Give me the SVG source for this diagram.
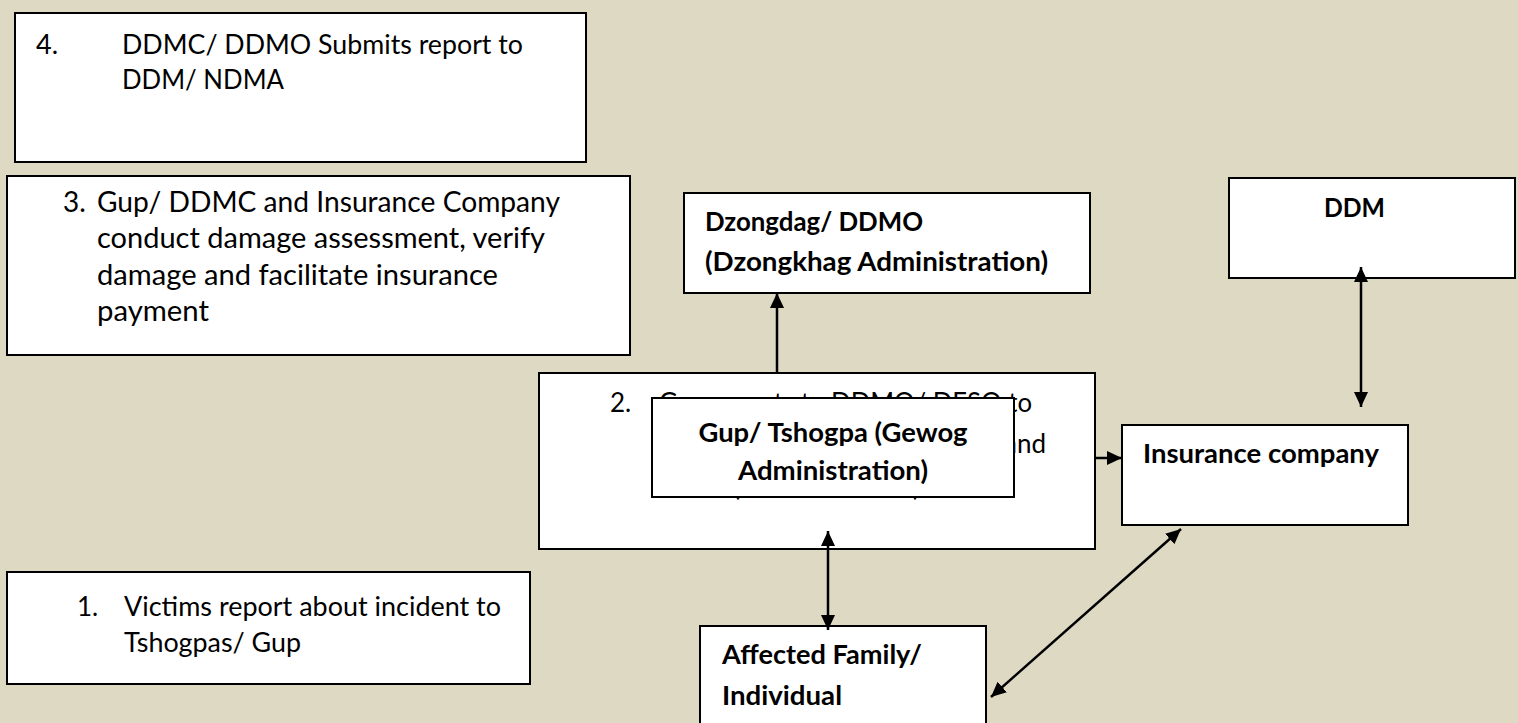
<svg xmlns="http://www.w3.org/2000/svg" width="1518" height="723" viewBox="0 0 1518 723">
<style>
.bx{fill:#fff;stroke:#000;stroke-width:2}
.t{font-family:Lato,"Open Sans","Liberation Sans",sans-serif;font-size:26px;fill:#000}
.t27{font-size:27px}
.t28{font-size:28px}
.b{font-family:Lato,"Open Sans","Liberation Sans",sans-serif;font-size:26px;font-weight:bold;fill:#000}
.ln{stroke:#000;stroke-width:2.5;fill:none}
</style>
<defs>
<marker id="ah" markerUnits="userSpaceOnUse" markerWidth="16" markerHeight="16" viewBox="0 0 16 16" refX="15" refY="8" orient="auto-start-reverse">
<path d="M0,1 L15,8 L0,15 z" fill="#000"/>
</marker>
</defs>
<rect x="0" y="0" width="1518" height="723" fill="#DDD9C3"/>

<g id="step4">
<rect class="bx" x="15" y="13" width="571" height="149"/>
<text class="t t27" x="36" y="54">4.</text>
<text class="t t27" x="122" y="54" textLength="401" lengthAdjust="spacingAndGlyphs">DDMC/ DDMO Submits report to</text>
<text class="t t27" x="122" y="89" textLength="162" lengthAdjust="spacingAndGlyphs">DDM/ NDMA</text>
</g>

<g id="step3">
<rect class="bx" x="7" y="176" width="623" height="179"/>
<text class="t t28" x="63" y="212">3.</text>
<text class="t t28" x="97" y="212" textLength="463" lengthAdjust="spacingAndGlyphs">Gup/ DDMC and Insurance Company</text>
<text class="t t28" x="97" y="248" textLength="448" lengthAdjust="spacingAndGlyphs">conduct damage assessment, verify</text>
<text class="t t28" x="97" y="285" textLength="401" lengthAdjust="spacingAndGlyphs">damage and facilitate insurance</text>
<text class="t t28" x="97" y="321" textLength="112" lengthAdjust="spacingAndGlyphs">payment</text>
</g>

<g id="step1">
<rect class="bx" x="7" y="572" width="523" height="112"/>
<text class="t" x="77" y="616">1.</text>
<text class="t" x="124" y="616" textLength="377" lengthAdjust="spacingAndGlyphs">Victims report about incident to</text>
<text class="t" x="124" y="652" textLength="177" lengthAdjust="spacingAndGlyphs">Tshogpas/ Gup</text>
</g>

<g id="dzongdag">
<rect class="bx" x="684" y="193" width="406" height="100"/>
<text class="b" x="705" y="231" textLength="218" lengthAdjust="spacingAndGlyphs">Dzongdag/ DDMO</text>
<text class="b" x="705" y="271" textLength="343" lengthAdjust="spacingAndGlyphs">(Dzongkhag Administration)</text>
</g>

<g id="ddm">
<rect class="bx" x="1229" y="178" width="286" height="100"/>
<text class="b" x="1324" y="217" textLength="61" lengthAdjust="spacingAndGlyphs">DDM</text>
</g>

<g id="step2">
<rect class="bx" x="539" y="373" width="556" height="176"/>
<text class="t" x="610" y="412">2.</text>
<text class="t" x="659" y="412" textLength="373" lengthAdjust="spacingAndGlyphs">Gup reports to DDMO/ DESO to</text>
<text class="t" x="1004" y="453">and</text>
<text class="t" x="733" y="496">(</text>
<text class="t" x="913" y="496">)</text>
</g>

<g id="gup">
<rect class="bx" x="652" y="398" width="362" height="99"/>
<text class="b" x="833" y="442" text-anchor="middle" textLength="269" lengthAdjust="spacingAndGlyphs">Gup/ Tshogpa (Gewog</text>
<text class="b" x="833" y="480" text-anchor="middle" textLength="190" lengthAdjust="spacingAndGlyphs">Administration)</text>
</g>

<g id="insurance">
<rect class="bx" x="1122" y="425" width="286" height="100"/>
<text class="b" x="1143" y="463" textLength="236" lengthAdjust="spacingAndGlyphs">Insurance company</text>
</g>

<g id="affected">
<rect class="bx" x="700" y="626" width="286" height="100"/>
<text class="b" x="722" y="664" textLength="200" lengthAdjust="spacingAndGlyphs">Affected Family/</text>
<text class="b" x="722" y="705" textLength="120" lengthAdjust="spacingAndGlyphs">Individual</text>
</g>

<g id="connectors">
<line class="ln" x1="777" y1="373" x2="777" y2="293" marker-end="url(#ah)"/>
<line class="ln" x1="1361" y1="267" x2="1361" y2="407" marker-start="url(#ah)" marker-end="url(#ah)"/>
<line class="ln" x1="1095" y1="458" x2="1122" y2="458" marker-end="url(#ah)"/>
<line class="ln" x1="828" y1="531" x2="828" y2="630" marker-start="url(#ah)" marker-end="url(#ah)"/>
<line class="ln" x1="991" y1="697" x2="1181" y2="529" marker-start="url(#ah)" marker-end="url(#ah)"/>
</g>
</svg>
